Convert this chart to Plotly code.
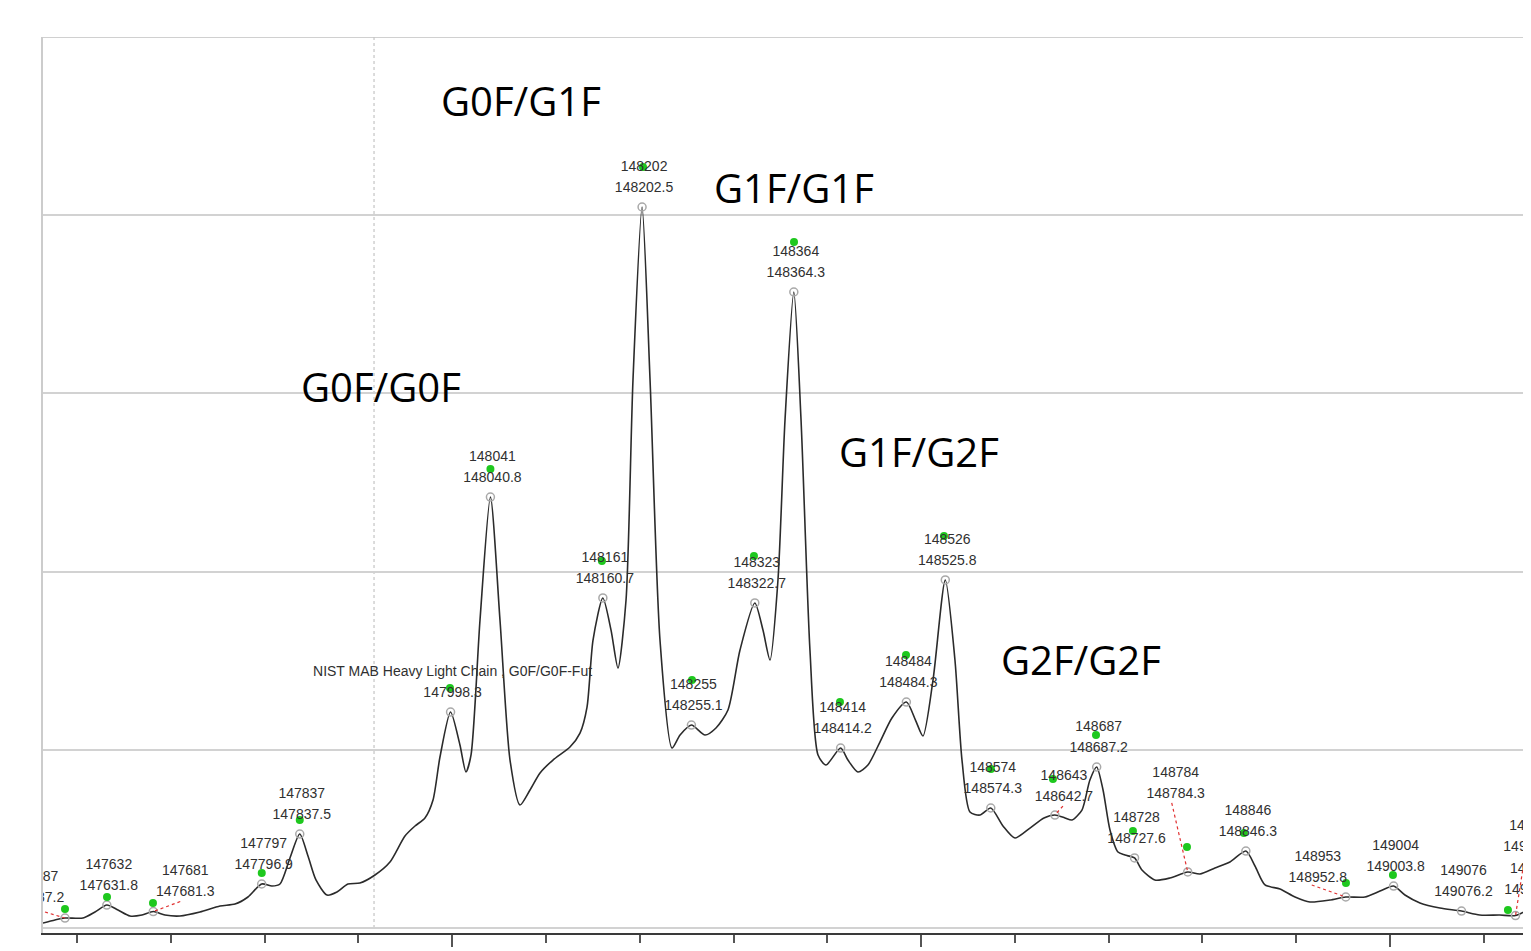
import plotly.graph_objects as go

# ---------------- data ----------------
curve_mass = [147563.7, 147576.5, 147587.2, 147606.4, 147619.2, 147631.8, 147643.7, 147656.5,
              147669.3, 147681.3, 147693.8, 147709.8, 147731.1, 147752.5, 147768.5, 147782.3,
              147796.9, 147807.9, 147816.4, 147827.1, 147837.5, 147846.3, 147854.8, 147866.6,
              147877.2, 147888.9, 147901.7, 147917.7, 147933.7, 147949.7, 147960.4, 147971.0,
              147979.6, 147987.0, 147998.3, 148008.3, 148014.7, 148020.1, 148029.7, 148040.8,
              148051.0, 148061.7, 148072.3, 148083.0, 148093.7, 148107.5, 148125.6, 148136.3,
              148143.8, 148150.2, 148160.7, 148169.4, 148176.8, 148185.4, 148192.8, 148202.5,
              148211.0, 148221.6, 148234.4, 148243.0, 148255.1, 148269.6, 148281.3, 148294.1,
              148306.9, 148322.7, 148331.4, 148338.9, 148347.4, 148354.9, 148364.3, 148372.0,
              148381.5, 148390.1, 148398.6, 148414.2, 148422.0, 148432.6, 148443.3, 148456.1,
              148468.9, 148484.3, 148494.0, 148502.0, 148512.7, 148525.8, 148536.1, 148543.6,
              148552.1, 148562.8, 148574.3, 148587.3, 148600.1, 148616.1, 148631.0, 148642.7,
              148653.4, 148660.9, 148671.5, 148680.0, 148687.2, 148694.0, 148701.4, 148709.9,
              148717.4, 148727.6, 148735.5, 148749.3, 148765.3, 148784.3, 148797.3, 148813.3,
              148829.3, 148846.3, 148856.0, 148866.7, 148882.7, 148898.7, 148914.6, 148936.0,
              148952.8, 148973.3, 148989.3, 149003.8, 149015.9, 149031.9, 149053.2, 149076.2,
              149095.6, 149116.9, 149133.8, 149150.3]
curve_intensity = [0.56, 0.90, 1.12, 1.12, 1.80, 2.58, 2.02, 1.35,
                   1.46, 1.85, 1.46, 1.35, 1.80, 2.47, 2.69, 3.48,
                   4.94, 4.71, 4.94, 7.86, 10.55, 8.08, 5.39, 3.70,
                   4.04, 4.94, 5.05, 5.95, 7.41, 10.33, 11.45, 12.35,
                   14.37, 19.19, 24.24, 20.54, 17.51, 19.41, 34.57, 48.37,
                   34.57, 18.85, 13.80, 15.49, 17.40, 18.85, 20.31, 21.88,
                   24.80, 32.32, 37.04, 33.44, 29.18, 36.81, 61.50, 80.92,
                   61.50, 32.32, 20.20, 21.66, 22.78, 21.66, 22.45, 24.47,
                   31.20, 36.48, 33.44, 30.08, 39.06, 57.01, 71.38, 57.01,
                   31.20, 19.42, 18.29, 20.20, 18.85, 17.51, 18.29, 20.87,
                   23.57, 25.36, 23.34, 21.55, 27.83, 39.06, 30.08, 18.85,
                   13.02, 12.68, 13.47, 11.45, 10.10, 11.22, 12.35, 12.68,
                   12.35, 12.12, 13.24, 16.61, 18.07, 15.49, 11.00, 8.53,
                   8.19, 7.86, 6.51, 5.39, 5.61, 6.29, 6.06, 6.73,
                   7.41, 8.64, 6.96, 4.83, 4.38, 3.48, 2.92, 3.14,
                   3.48, 3.48, 4.15, 4.71, 3.70, 2.81, 2.24, 1.90,
                   1.46, 1.46, 1.40, 2.24]

peak_mass = [147587.2, 147631.8, 147681.3, 147796.9, 147837.5, 147998.3, 148040.8, 148160.7,
             148202.5, 148255.1, 148322.7, 148364.3, 148414.2, 148484.3, 148525.8, 148574.3,
             148642.7, 148687.2, 148727.6, 148784.3, 148846.3, 148952.8, 149003.8, 149076.2,
             149133.8, 149152.9]
peak_intensity = [1.12, 2.58, 1.85, 4.94, 10.55, 24.24, 48.37, 37.04,
                  80.92, 22.78, 36.48, 71.38, 20.20, 25.36, 39.06, 13.47,
                  12.68, 18.07, 7.86, 6.29, 8.64, 3.48, 4.71, 1.90,
                  1.40, 2.13]
peak_top_label = ["147587", "147632", "147681", "147797", "147837",
                  "NIST MAB Heavy Light Chain , G0F/G0F-Fut", "148041", "148161",
                  "148202", "148255", "148323", "148364", "148414", "148484", "148526", "148574",
                  "148643", "148687", "148728", "148784", "148846", "148953", "149004", "149076",
                  "149134", "149153"]
peak_bottom_label = ["147587.2", "147631.8", "147681.3", "147796.9", "147837.5", "147998.3",
                     "148040.8", "148160.7", "148202.5", "148255.1", "148322.7", "148364.3",
                     "148414.2", "148484.3", "148525.8", "148574.3", "148642.7", "148687.2",
                     "148727.6", "148784.3", "148846.3", "148952.8", "149003.8", "149076.2",
                     "149133.8", "149152.9"]

target_mass = [147587.2, 147632.0, 147681.0, 147797.0, 147837.5, 147997.7, 148040.8, 148159.7,
               148203.5, 148255.7, 148321.8, 148364.5, 148413.5, 148483.9, 148524.4, 148574.5,
               148640.6, 148686.5, 148725.9, 148783.5, 148844.2, 148953.0, 149003.1, 149125.7]
target_intensity = [2.13, 3.48, 2.81, 6.17, 12.12, 26.94, 51.51, 41.19,
                    85.41, 27.83, 41.75, 76.99, 25.36, 30.64, 43.99, 17.84,
                    16.72, 21.66, 10.89, 9.09, 10.66, 5.05, 5.95, 2.02]

glycoform_names = ["G0F/G1F", "G1F/G1F", "G0F/G0F", "G1F/G2F", "G2F/G2F"]
reference_line_mass = 147916.7

# ---------------- layout constants ----------------
# the page body adds an 8px margin around the figure
PAGE_OFF = 8
W, H = 1523, 943
ML, MR, MT, MB = 35, 0, 29, 18
X_RANGE = [147563.75, 149150.3]
Y_RANGE = [-0.56, 100]
PLOT_W = W - ML - MR
PLOT_H = H - MT - MB
PX_DA = PLOT_W / (X_RANGE[1] - X_RANGE[0])
PX_INT = PLOT_H / (Y_RANGE[1] - Y_RANGE[0])

# label offsets (pixels, relative to the peak circle) for the second label line
DEFAULT_OFF = (2, -18.5)
LABEL_OFF = {0: (-30, -20), 2: (32, -19), 16: (9, -18), 19: (-12, -77),
             21: (-28, -19), 24: (17, -68), 25: (0, -19)}
LINE_GAP = 21
LEADER_OFF = {0: (-20, -6), 2: (27, -10), 16: (8, -9), 19: (-16, -69),
              21: (-34, -12), 24: (9, -57)}

# glycoform annotation positions in window pixels (centre)
GLYCO_POS = [(521, 101), (794, 187), (381, 386), (919, 451), (1081, 659)]


def dx(px):
    return px / PX_DA


def dy(px):
    return -px / PX_INT  # pixel y grows downward


l1x, l1y, l2x, l2y = [], [], [], []
for i, (m, v) in enumerate(zip(peak_mass, peak_intensity)):
    ox, oy = LABEL_OFF.get(i, DEFAULT_OFF)
    l2x.append(m + dx(ox))
    l2y.append(v + dy(oy))
    l1x.append(m + dx(ox))
    l1y.append(v + dy(oy - LINE_GAP))

fig = go.Figure()

fig.add_trace(go.Scatter(
    x=curve_mass, y=curve_intensity, mode="lines",
    line=dict(color="#2b2b2b", width=1.6, shape="spline", smoothing=0.7),
    hoverinfo="skip", showlegend=False))

fig.add_trace(go.Scatter(
    x=peak_mass, y=peak_intensity, mode="markers",
    marker=dict(symbol="circle-open", size=8, color="#a9a9a9", line=dict(width=1.5, color="#a9a9a9")),
    cliponaxis=True, hoverinfo="skip", showlegend=False))

fig.add_trace(go.Scatter(
    x=target_mass, y=target_intensity, mode="markers",
    marker=dict(symbol="circle", size=8, color="#1ec81e"),
    cliponaxis=True, hoverinfo="skip", showlegend=False))

label_font = dict(family="Liberation Sans, Arial, sans-serif", size=14, color="#303030")
fig.add_trace(go.Scatter(
    x=l1x, y=l1y, mode="text", text=peak_top_label, textposition="middle center",
    textfont=label_font, cliponaxis=True, hoverinfo="skip", showlegend=False))
fig.add_trace(go.Scatter(
    x=l2x, y=l2y, mode="text", text=peak_bottom_label, textposition="middle center",
    textfont=label_font, cliponaxis=True, hoverinfo="skip", showlegend=False))

shapes = []
# red dotted leader lines
for i, (ox, oy) in LEADER_OFF.items():
    shapes.append(dict(type="line", xref="x", yref="y",
                       x0=peak_mass[i] + dx(ox), y0=peak_intensity[i] + dy(oy),
                       x1=peak_mass[i], y1=peak_intensity[i],
                       line=dict(color="#e03030", width=1.2, dash="dot")))
# vertical dotted reference line
shapes.append(dict(type="line", xref="x", yref="y", x0=reference_line_mass, x1=reference_line_mass,
                   y0=0, y1=100, line=dict(color="#c4c4c4", width=1.2, dash="dot"), layer="below"))
# top border
shapes.append(dict(type="line", xref="paper", yref="y", x0=0, x1=1, y0=100, y1=100,
                   line=dict(color="#d0d0d0", width=2), layer="below"))

annotations = []
for name, (px, py) in zip(glycoform_names, GLYCO_POS):
    annotations.append(dict(
        text=name, xref="paper", yref="paper",
        x=(px - PAGE_OFF - ML) / PLOT_W, y=(H - MB - (py - PAGE_OFF)) / PLOT_H,
        xanchor="center", yanchor="middle", showarrow=False,
        font=dict(family="Open Sans, Noto Sans, sans-serif", size=40, color="#000000")))

fig.update_layout(
    width=W, height=H,
    margin=dict(l=ML, r=MR, t=MT, b=MB, pad=0),
    paper_bgcolor="white", plot_bgcolor="white",
    shapes=shapes, annotations=annotations,
    xaxis=dict(range=X_RANGE, showgrid=False, zeroline=False, automargin=False,
               showline=True, linecolor="#3a3a3a", linewidth=2,
               ticks="outside", tick0=148000, dtick=500, ticklen=12, tickwidth=2, tickcolor="#555555",
               minor=dict(ticks="outside", dtick=100, tick0=148000, ticklen=8, tickwidth=2,
                          tickcolor="#555555", showgrid=False),
               showticklabels=False, fixedrange=True),
    yaxis=dict(range=Y_RANGE, showgrid=True, gridcolor="#d2d2d2", gridwidth=1.5,
               tick0=0, dtick=20, zeroline=False, automargin=False,
               showline=True, linecolor="#cccccc", linewidth=2,
               ticks="", showticklabels=False, fixedrange=True),
)

fig.write_html("out.html")
